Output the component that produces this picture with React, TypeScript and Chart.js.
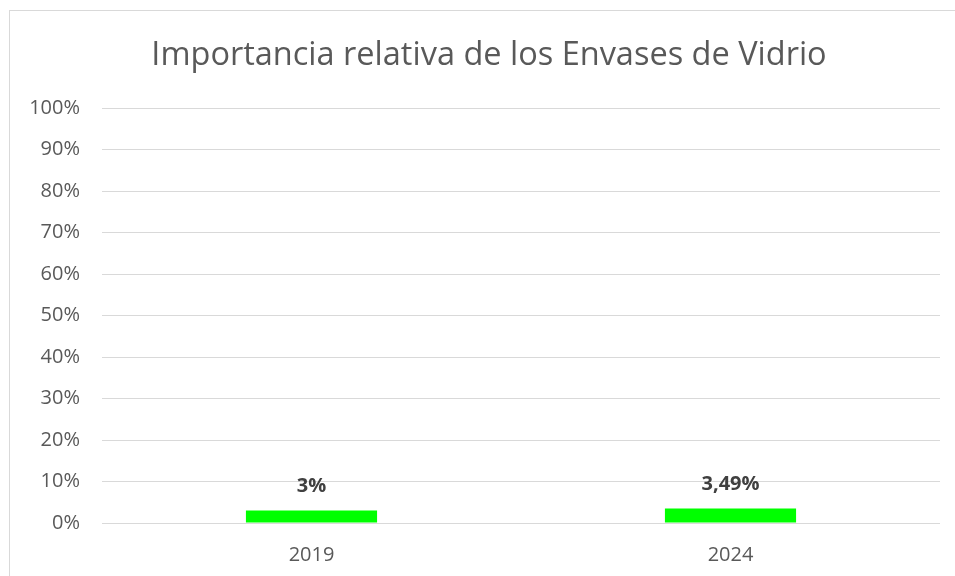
import React, { useEffect, useRef } from "react";
import { Chart, registerables } from "chart.js";

Chart.register(...registerables);

const categories = ["2019", "2024"];
const values = [0.03, 0.0349];
const valueLabels = ["3%", "3,49%"];
const yTicks = [0, 0.1, 0.2, 0.3, 0.4, 0.5, 0.6, 0.7, 0.8, 0.9, 1];
const titleText = "Importancia relativa de los Envases de Vidrio";

const FONT = "'Open Sans', Lato, sans-serif";

const dataLabelPlugin = {
  id: "dataLabels",
  afterDatasetsDraw(chart: any) {
    const ctx = chart.ctx;
    const meta = chart.getDatasetMeta(0);
    ctx.save();
    ctx.font = `bold 20px ${FONT}`;
    ctx.fillStyle = "#404040";
    ctx.textAlign = "center";
    ctx.textBaseline = "middle";
    meta.data.forEach((bar: any, i: number) => {
      ctx.fillText(valueLabels[i], bar.x, bar.y - 24);
    });
    ctx.restore();
  },
};

const titlePlugin = {
  id: "customTitle",
  afterDraw(chart: any) {
    const ctx = chart.ctx;
    ctx.save();
    ctx.font = `normal 32.5px ${FONT}`;
    ctx.fillStyle = "#595959";
    ctx.textAlign = "center";
    ctx.textBaseline = "alphabetic";
    ctx.fillText(titleText, 489, 65);
    ctx.restore();
  },
};

export default function App() {
  const ref = useRef<HTMLCanvasElement | null>(null);

  useEffect(() => {
    if (!ref.current) return;
    const chart = new Chart(ref.current, {
      type: "bar",
      data: {
        labels: categories,
        datasets: [
          {
            data: values,
            backgroundColor: "#00FF00",
            borderWidth: 0,
            categoryPercentage: 1,
            barPercentage: 0.313,
          },
        ],
      },
      options: {
        responsive: false,
        animation: false,
        layout: { padding: { left: 10, right: 15, top: 108, bottom: 0 } },
        plugins: {
          legend: { display: false },
          tooltip: { enabled: false },
          title: { display: false },
        },
        scales: {
          x: {
            grid: { display: false, drawTicks: false },
            border: { display: false },
            ticks: {
              color: "#595959",
              font: { family: FONT, size: 20 },
              padding: 20,
            },
            afterFit(scale: any) {
              scale.height = 53;
            },
          },
          y: {
            min: 0,
            max: 1,
            afterBuildTicks(scale: any) {
              scale.ticks = yTicks.map((v) => ({ value: v }));
            },
            grid: { color: "#d9d9d9", lineWidth: 1, drawTicks: false },
            border: { display: false },
            ticks: {
              color: "#595959",
              font: { family: FONT, size: 20 },
              padding: 22,
              callback: (v: any) => Math.round(Number(v) * 100) + "%",
            },
            afterFit(scale: any) {
              scale.width = 92;
            },
          },
        },
      },
      plugins: [dataLabelPlugin, titlePlugin],
    });
    return () => chart.destroy();
  }, []);

  return (
    <>
      <div
        style={{
          position: "fixed",
          left: 0,
          top: 0,
          width: 955,
          height: 576,
          background: "#ffffff",
        }}
      >
        <canvas ref={ref} width={955} height={576} style={{ display: "block" }} />
      </div>
      <div
        style={{
          position: "fixed",
          left: 9,
          top: 10,
          width: 946,
          height: 566,
          borderTop: "1px solid #d9d9d9",
          borderLeft: "1px solid #d9d9d9",
          boxSizing: "border-box",
          pointerEvents: "none",
        }}
      />
    </>
  );
}
